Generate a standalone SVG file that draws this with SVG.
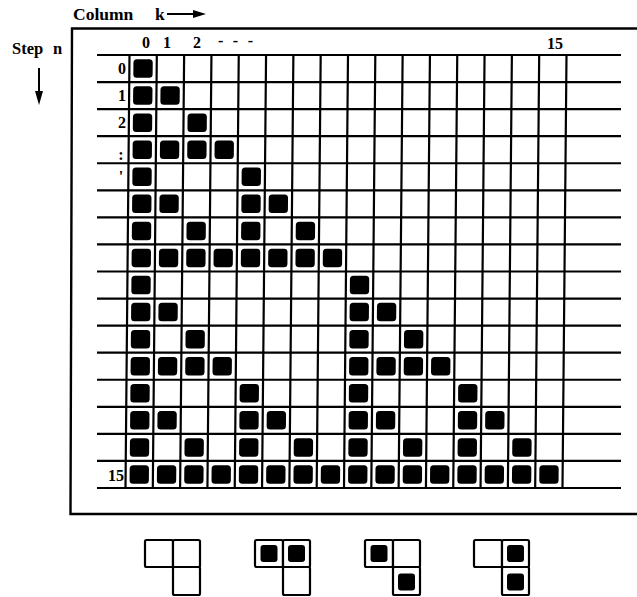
<svg xmlns="http://www.w3.org/2000/svg" xmlns:xlink="http://www.w3.org/1999/xlink" width="637" height="597" viewBox="0 0 637 597">
<style>
.t{font-family:"Liberation Serif","Times New Roman",serif;font-weight:bold;fill:#000}
.ln{stroke:#000;stroke-width:2.2;fill:none}
.fr{stroke:#000;stroke-width:2.4;fill:none}
.sq{fill:#000}
.cell{fill:#fff;stroke:#000;stroke-width:2.2}
</style>
<defs>
<rect id="s" width="19.3" height="18.5" rx="3.5" class="sq"/>
<rect id="ls" width="17" height="17" rx="3" class="sq"/>
<g id="L">
<rect x="0" y="0" width="28" height="27" rx="1.5" class="cell"/>
<rect x="28" y="0" width="27" height="27" rx="1.5" class="cell"/>
<rect x="28" y="27" width="27" height="28" rx="1.5" class="cell"/>
</g>
</defs>
<rect width="637" height="597" fill="#fff"/>

<g id="titles">
<text class="t" x="73" y="20" font-size="17.5">Column</text>
<text class="t" x="155" y="20" font-size="17.5">k</text>
<line x1="167" y1="14" x2="196" y2="14" stroke="#000" stroke-width="2"/>
<polygon points="193,10 206,14 193,18" fill="#000"/>
<text class="t" x="12" y="54" font-size="16.5">Step</text>
<text class="t" x="53" y="54" font-size="16.5">n</text>
<line x1="39" y1="68" x2="39" y2="94" stroke="#000" stroke-width="2"/>
<polygon points="35,91 39,105 43,91" fill="#000"/>
</g>

<g id="frame">
<path class="fr" d="M637,28.5 L72,28.5 L70.5,514 L637,514"/>
</g>

<g id="labels" class="t" font-size="16">
<text x="146" y="48" text-anchor="middle">0</text>
<text x="167" y="48" text-anchor="middle">1</text>
<text x="197" y="48" text-anchor="middle">2</text>
<text x="218" y="46" textLength="35" lengthAdjust="spacing">- - -</text>
<text x="555" y="49" text-anchor="middle">15</text>
<text x="126" y="74" text-anchor="end">0</text>
<text x="126" y="101" text-anchor="end">1</text>
<text x="126" y="128" text-anchor="end">2</text>
<text x="121" y="160" text-anchor="middle">:</text>
<text x="121" y="182" text-anchor="middle">'</text>
<text x="124" y="481" text-anchor="end">15</text>
</g>

<g id="hlines" class="ln">
<path d="M97,55H621M97,82.06H621M97,109.13H621M97,136.19H621M97,163.25H621M97,190.31H621M97,217.38H621M97,244.44H621M97,271.5H621M97,298.56H621M97,325.63H621M97,352.69H621M97,379.75H621M97,406.81H621M97,433.88H621M97,460.94H621M97,488H621"/>
</g>

<g id="grid" transform="matrix(1 0 -0.00924 1 0.508 0)">
<path class="ln" d="M129.5,55V488M156.81,55V488M184.13,55V488M211.44,55V488M238.75,55V488M266.06,55V488M293.38,55V488M320.69,55V488M348,55V488M375.31,55V488M402.63,55V488M429.94,55V488M457.25,55V488M484.56,55V488M511.88,55V488M539.19,55V488M566.5,55V488"/>
<g id="cells">
<!-- n0 -->
<use xlink:href="#s" x="133.5" y="59.3"/>
<!-- n1 -->
<use xlink:href="#s" x="133.5" y="86.36"/><use xlink:href="#s" x="160.81" y="86.36"/>
<!-- n2 -->
<use xlink:href="#s" x="133.5" y="113.43"/><use xlink:href="#s" x="188.13" y="113.43"/>
<!-- n3 -->
<use xlink:href="#s" x="133.5" y="140.49"/><use xlink:href="#s" x="160.81" y="140.49"/><use xlink:href="#s" x="188.13" y="140.49"/><use xlink:href="#s" x="215.44" y="140.49"/>
<!-- n4 -->
<use xlink:href="#s" x="133.5" y="167.55"/><use xlink:href="#s" x="242.75" y="167.55"/>
<!-- n5 -->
<use xlink:href="#s" x="133.5" y="194.61"/><use xlink:href="#s" x="160.81" y="194.61"/><use xlink:href="#s" x="242.75" y="194.61"/><use xlink:href="#s" x="270.06" y="194.61"/>
<!-- n6 -->
<use xlink:href="#s" x="133.5" y="221.68"/><use xlink:href="#s" x="188.13" y="221.68"/><use xlink:href="#s" x="242.75" y="221.68"/><use xlink:href="#s" x="297.38" y="221.68"/>
<!-- n7 -->
<use xlink:href="#s" x="133.5" y="248.74"/><use xlink:href="#s" x="160.81" y="248.74"/><use xlink:href="#s" x="188.13" y="248.74"/><use xlink:href="#s" x="215.44" y="248.74"/><use xlink:href="#s" x="242.75" y="248.74"/><use xlink:href="#s" x="270.06" y="248.74"/><use xlink:href="#s" x="297.38" y="248.74"/><use xlink:href="#s" x="324.69" y="248.74"/>
<!-- n8 -->
<use xlink:href="#s" x="133.5" y="275.8"/><use xlink:href="#s" x="352" y="275.8"/>
<!-- n9 -->
<use xlink:href="#s" x="133.5" y="302.86"/><use xlink:href="#s" x="160.81" y="302.86"/><use xlink:href="#s" x="352" y="302.86"/><use xlink:href="#s" x="379.31" y="302.86"/>
<!-- n10 -->
<use xlink:href="#s" x="133.5" y="329.93"/><use xlink:href="#s" x="188.13" y="329.93"/><use xlink:href="#s" x="352" y="329.93"/><use xlink:href="#s" x="406.63" y="329.93"/>
<!-- n11 -->
<use xlink:href="#s" x="133.5" y="356.99"/><use xlink:href="#s" x="160.81" y="356.99"/><use xlink:href="#s" x="188.13" y="356.99"/><use xlink:href="#s" x="215.44" y="356.99"/><use xlink:href="#s" x="352" y="356.99"/><use xlink:href="#s" x="379.31" y="356.99"/><use xlink:href="#s" x="406.63" y="356.99"/><use xlink:href="#s" x="433.94" y="356.99"/>
<!-- n12 -->
<use xlink:href="#s" x="133.5" y="384.05"/><use xlink:href="#s" x="242.75" y="384.05"/><use xlink:href="#s" x="352" y="384.05"/><use xlink:href="#s" x="461.25" y="384.05"/>
<!-- n13 -->
<use xlink:href="#s" x="133.5" y="411.11"/><use xlink:href="#s" x="160.81" y="411.11"/><use xlink:href="#s" x="242.75" y="411.11"/><use xlink:href="#s" x="270.06" y="411.11"/><use xlink:href="#s" x="352" y="411.11"/><use xlink:href="#s" x="379.31" y="411.11"/><use xlink:href="#s" x="461.25" y="411.11"/><use xlink:href="#s" x="488.56" y="411.11"/>
<!-- n14 -->
<use xlink:href="#s" x="133.5" y="438.18"/><use xlink:href="#s" x="188.13" y="438.18"/><use xlink:href="#s" x="242.75" y="438.18"/><use xlink:href="#s" x="297.38" y="438.18"/><use xlink:href="#s" x="352" y="438.18"/><use xlink:href="#s" x="406.63" y="438.18"/><use xlink:href="#s" x="461.25" y="438.18"/><use xlink:href="#s" x="515.88" y="438.18"/>
<!-- n15 -->
<use xlink:href="#s" x="133.5" y="465.24"/><use xlink:href="#s" x="160.81" y="465.24"/><use xlink:href="#s" x="188.13" y="465.24"/><use xlink:href="#s" x="215.44" y="465.24"/><use xlink:href="#s" x="242.75" y="465.24"/><use xlink:href="#s" x="270.06" y="465.24"/><use xlink:href="#s" x="297.38" y="465.24"/><use xlink:href="#s" x="324.69" y="465.24"/><use xlink:href="#s" x="352" y="465.24"/><use xlink:href="#s" x="379.31" y="465.24"/><use xlink:href="#s" x="406.63" y="465.24"/><use xlink:href="#s" x="433.94" y="465.24"/><use xlink:href="#s" x="461.25" y="465.24"/><use xlink:href="#s" x="488.56" y="465.24"/><use xlink:href="#s" x="515.88" y="465.24"/><use xlink:href="#s" x="543.19" y="465.24"/>
</g>
</g>

<g id="legend1" transform="translate(145,540)">
<use xlink:href="#L"/>
</g>
<g id="legend2" transform="translate(255,540)">
<use xlink:href="#L"/>
<use xlink:href="#ls" x="5.5" y="5"/><use xlink:href="#ls" x="33" y="5"/>
</g>
<g id="legend3" transform="translate(365,540)">
<use xlink:href="#L"/>
<use xlink:href="#ls" x="5.5" y="5"/><use xlink:href="#ls" x="33" y="33.5"/>
</g>
<g id="legend4" transform="translate(474,540)">
<use xlink:href="#L"/>
<use xlink:href="#ls" x="33" y="5"/><use xlink:href="#ls" x="33" y="33.5"/>
</g>
</svg>
